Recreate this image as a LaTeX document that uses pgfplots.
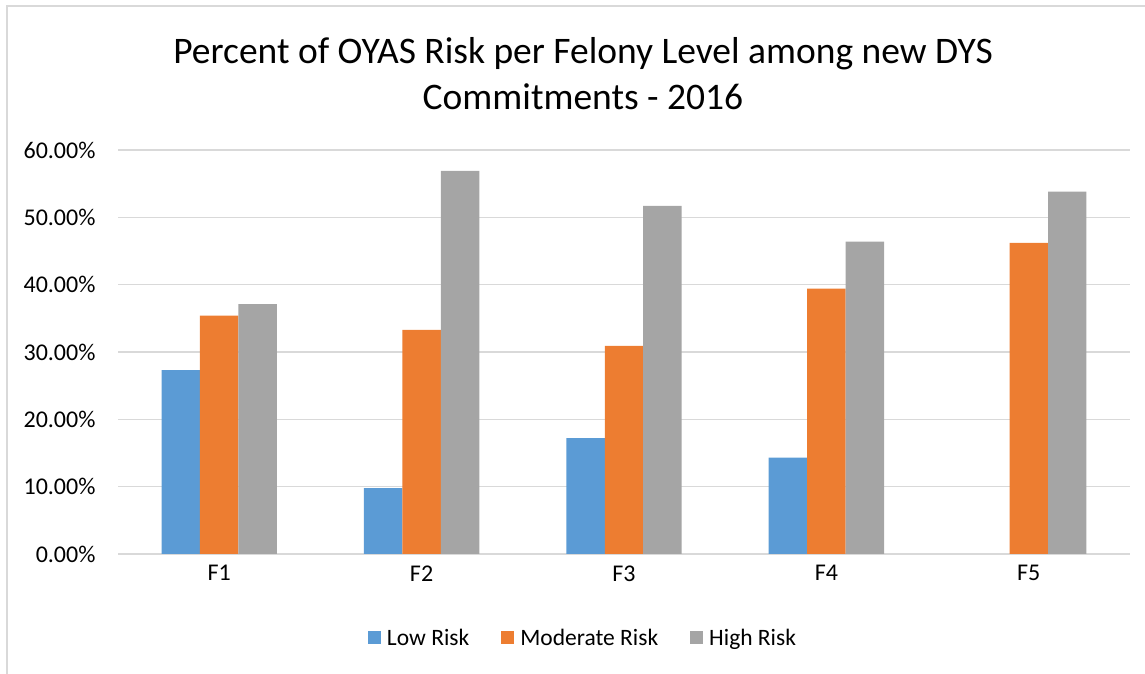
\documentclass[border=0pt]{standalone}
\usepackage{pgfplots}
\pgfplotsset{compat=1.18}
\usepackage{fontspec}
\setmainfont{Carlito}
\definecolor{lowc}{HTML}{5B9BD5}
\definecolor{modc}{HTML}{ED7D31}
\definecolor{highc}{HTML}{A5A5A5}
\definecolor{gridc}{HTML}{D9D9D9}
\begin{document}
\begin{tikzpicture}[x=1pt,y=1pt]
\useasboundingbox (0,0) rectangle (1145,674);
\draw[gridc, line width=1.5pt] (7,0) -- (7,668) -- (1145,668);
\node[font=\fontsize{37.5}{46}\selectfont, align=center] at (583,600) {Percent of OYAS Risk per Felony Level among new DYS\\Commitments - 2016};
\begin{axis}[
    at={(118pt,120pt)}, anchor=south west,
    width=1012pt, height=404pt, scale only axis,
    ybar, bar width=0.19,
    xmin=-0.5, xmax=4.5, ymin=0, ymax=60,
    xtick={0,1,2,3,4}, xticklabels={F1,F2,F3,F4,F5},
    ytick={0,10,...,60},
    yticklabel={\pgfmathprintnumber[fixed,fixed zerofill,precision=2]{\tick}\%},
    /pgf/number format/assume math mode=true,
    ticklabel style={font=\fontsize{24}{28}\selectfont},
    yticklabel style={xshift=-19pt},
    xticklabel style={yshift=-8pt},
    major tick length=0pt,
    ymajorgrids, grid style={gridc, line width=1.6pt},
    axis x line*=bottom, axis y line*=left,
    x axis line style={draw=gridc, line width=1.6pt, -},
    y axis line style={draw=none},
    legend style={at={(0.4595,-0.208)}, anchor=center, draw=none,
        legend columns=-1, font=\fontsize{23.5}{27}\selectfont,
        /tikz/every odd column/.append style={column sep=4pt},
        /tikz/every even column/.append style={column sep=30pt}},
    legend image code/.code={\fill[#1] (0pt,-6pt) rectangle (13pt,7pt);},
]
\addplot[draw=none, fill=lowc, bar shift=-0.19] coordinates {
    (0,27.3) (1,9.8) (2,17.2) (3,14.3)
};
\addplot[draw=none, fill=modc, bar shift=0] coordinates {
    (0,35.4) (1,33.3) (2,30.9) (3,39.4) (4,46.2)
};
\addplot[draw=none, fill=highc, bar shift=0.19] coordinates {
    (0,37.1) (1,56.9) (2,51.7) (3,46.4) (4,53.8)
};
\legend{Low Risk, Moderate Risk, High Risk}
\end{axis}
\end{tikzpicture}
\end{document}
